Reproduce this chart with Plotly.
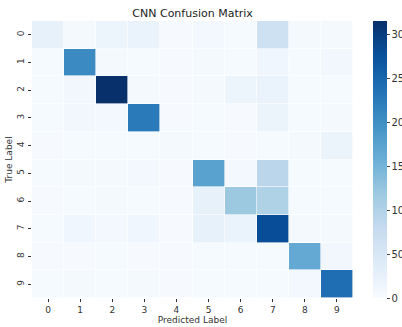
import plotly.graph_objects as go

labels = [str(i) for i in range(10)]
title = "CNN Confusion Matrix"
x_title = "Predicted Label"
y_title = "True Label"

row0 = [25, 5, 15, 20, 2, 8, 3, 65, 5, 5]
row1 = [3, 205, 5, 3, 2, 5, 3, 12, 3, 10]
row2 = [3, 10, 315, 5, 2, 5, 15, 20, 3, 3]
row3 = [3, 10, 8, 225, 2, 3, 2, 18, 3, 5]
row4 = [2, 3, 3, 3, 5, 3, 2, 3, 5, 18]
row5 = [3, 5, 5, 8, 2, 175, 8, 90, 3, 3]
row6 = [2, 3, 5, 3, 2, 25, 120, 100, 3, 3]
row7 = [3, 12, 8, 12, 2, 25, 20, 280, 5, 5]
row8 = [2, 2, 3, 2, 2, 3, 3, 3, 165, 10]
row9 = [3, 5, 3, 5, 2, 3, 3, 3, 8, 240]
z = [row0, row1, row2, row3, row4, row5, row6, row7, row8, row9]
cbar_ticks = [0, 50, 100, 150, 200, 250, 300]

font = "DejaVu Sans"

fig = go.Figure(go.Heatmap(
    z=z, x=labels, y=labels,
    colorscale="Blues", zmin=0, zmax=315,
    xgap=0.6, ygap=0.6,
    colorbar=dict(
        x=1.062, xanchor="left", y=0.5, yanchor="middle",
        len=1, lenmode="fraction", thickness=14, xpad=0, ypad=0,
        outlinewidth=0, ticks="outside", ticklen=3,
        tickvals=cbar_ticks, tickfont=dict(family=font, size=10, color="#333"),
    ),
    hoverongaps=False,
))

fig.update_layout(
    width=402, height=327,
    margin=dict(l=32, r=49, t=21, b=29, autoexpand=False),
    paper_bgcolor="white", plot_bgcolor="white",
    title=dict(text=title, x=0.479, xanchor="center", y=0.96, yanchor="middle",
               font=dict(family=font, size=11, color="#222")),
    font=dict(family=font, size=9, color="#333"),
)
fig.update_xaxes(
    title=dict(text=x_title, font=dict(family=font, size=9, color="#333"), standoff=2),
    ticks="outside", ticklen=3, tickcolor="#333", showgrid=False, zeroline=False,
    tickfont=dict(family=font, size=9, color="#333"), type="category",
)
fig.update_yaxes(
    title=dict(text=y_title, font=dict(family=font, size=9, color="#333"), standoff=2),
    ticks="outside", ticklen=3, tickcolor="#333", showgrid=False, zeroline=False,
    tickangle=-90, autorange="reversed",
    tickfont=dict(family=font, size=9, color="#333"), type="category",
)

fig.write_html("out.html")
